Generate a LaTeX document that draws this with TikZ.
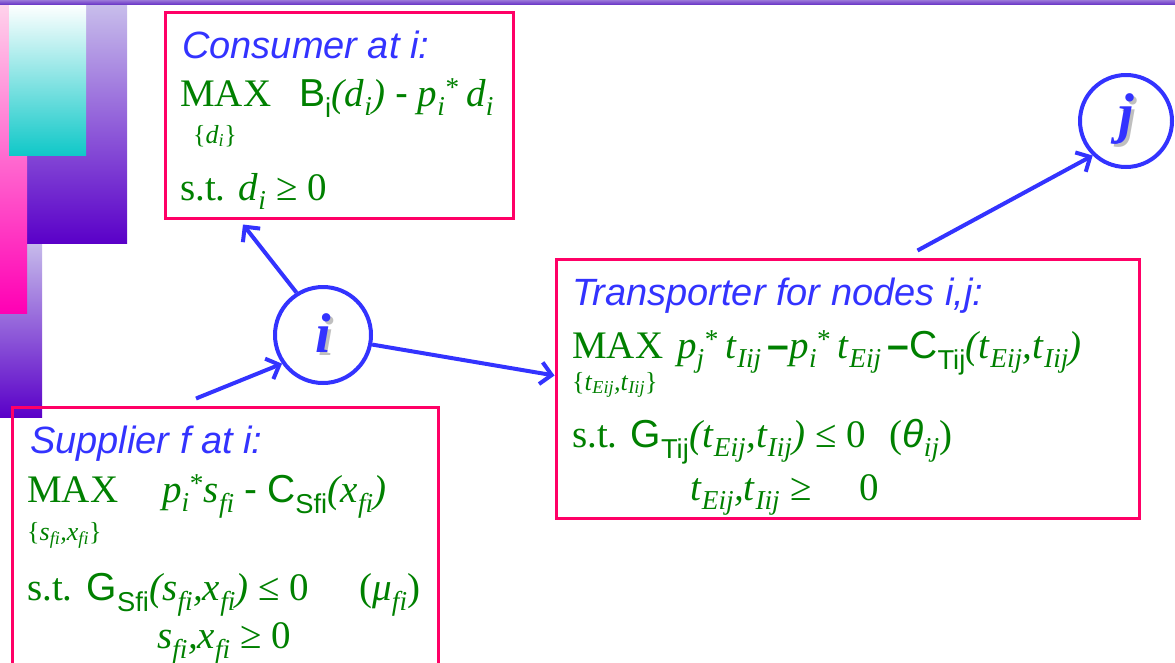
\documentclass[tikz,border=0pt]{standalone}
\usepackage{fontspec}
\setmainfont{Liberation Serif}
\newfontfamily\arial{Liberation Sans}
\usetikzlibrary{arrows.meta, positioning}

\definecolor{boxred}{RGB}{255,0,102}
\definecolor{linkblue}{RGB}{51,51,255}
\definecolor{eqgreen}{RGB}{0,128,0}
\definecolor{barpurple}{RGB}{110,60,200}
\definecolor{deeppurple}{RGB}{90,0,200}
\definecolor{lavender}{RGB}{200,190,235}
\definecolor{hotpink}{RGB}{255,0,180}
\definecolor{palepink}{RGB}{255,210,235}
\definecolor{teal}{RGB}{16,200,200}

% subscripts / superscripts in text
\newcommand{\lo}[1]{\textsubscript{\itshape #1}}
\newcommand{\hi}[1]{\textsuperscript{#1}}
\newcommand{\fnlo}[1]{\textsubscript{\arial #1}}
\newcommand{\shadowed}[1]{\makebox[0pt][l]{\hspace{3pt}\raisebox{-3pt}{\textcolor{black!25}{#1}}}#1}

\begin{document}
\begin{tikzpicture}[
  x=1pt, y=-1pt,
  model/.style={draw=boxred, line width=3pt, inner sep=0pt},
  place/.style={circle, draw=linkblue, line width=4pt, inner sep=0pt, text=linkblue,
    font=\bfseries\itshape\fontsize{56}{62}\selectfont},
  head/.style={anchor=base west, inner sep=0pt, text=linkblue,
    font=\arial\itshape\fontsize{38}{44}\selectfont},
  eqn/.style={anchor=base west, inner sep=0pt, text=eqgreen,
    font=\fontsize{39}{46}\selectfont},
  idx/.style={anchor=base west, inner sep=0pt, text=eqgreen,
    font=\fontsize{26}{30}\selectfont},
  link/.style={draw=linkblue, line width=4pt,
    -{Straight Barb[length=11pt, width=22pt, line width=4pt]}}
]
\clip (0,0) rectangle (1175,662);

% slide decoration
\shade[top color=lavender, bottom color=deeppurple] (0,240) rectangle (42,417);
\shade[top color=lavender, bottom color=deeppurple] (27,4) rectangle (127,243);
\shade[top color=palepink, bottom color=hotpink] (0,4) rectangle (27,313);
\shade[top color=white, bottom color=teal] (9,4) rectangle (86,155);
\shade[top color=barpurple!70, bottom color=barpurple] (0,0) rectangle (1175,4);

% boxes
\node[model, minimum width=348pt, minimum height=206pt] (cons) at (339,115) {};
\node[model, minimum width=583pt, minimum height=259pt] (trans) at (847.5,388.5) {};
\node[model, minimum width=426pt, minimum height=283pt] (supp) at (225,548.5) {};

% nodes of the network
\node[place, minimum size=96pt] (i) at (323,335) {\shadowed{i}};
\node[place, minimum size=92pt] (j) at (1126,121) {\shadowed{j}};

% consumer
\node[head] (conshead) at (182,58) {Consumer at i:};
\node[eqn] (consmax) at (180,106) {MAX\hspace{28pt}{\arial B}\fnlo{i}\textit{(d}\lo{i}\textit{)} {\arial -} \textit{p}\lo{i}\hi{*}\,\textit{d}\lo{i}};
\node[idx] (considx) at (193,143) {\{\textit{d}\lo{i}\}};
\node[eqn] (consst) at (180,200) {s.t. \textit{d}\lo{i} ≥ 0};

% transporter
\node[head] (transhead) at (572,305) {Transporter for nodes i,j:};
\node[eqn] (transmax) at (572,358) {MAX\hspace{14pt}\textit{p}\lo{j}\hi{*}\,\textit{t}\lo{Iij}\hspace{6pt}{\arial\bfseries –}\textit{p}\lo{i}\hi{*}\,\textit{t}\lo{Eij}\hspace{6pt}{\arial\bfseries –}{\arial C}\fnlo{Tij}\textit{(t}\lo{Eij}\textit{,t}\lo{Iij}\textit{)}};
\node[idx] (transidx) at (572,390) {\{\textit{t}\lo{Eij}\textit{,t}\lo{Iij}\}};
\node[eqn] (transst) at (572,447) {s.t. {\arial G}\fnlo{Tij}\textit{(t}\lo{Eij}\textit{,t}\lo{Iij}\textit{)} ≤ 0\hspace{24pt}({\arial\itshape θ}\lo{ij})};
\node[eqn] (transpos) at (690,500) {\textit{t}\lo{Eij}\textit{,t}\lo{Iij} ≥\hspace{48pt}0};

% supplier
\node[head] (supphead) at (30,453) {Supplier f at i:};
\node[eqn] (suppmax) at (27,502) {MAX\hspace{44pt}\textit{p}\lo{i}\hi{*}\textit{s}\lo{fi} {\arial -} {\arial C}\fnlo{Sfi}\textit{(x}\lo{fi}\textit{)}};
\node[idx] (suppidx) at (27,540) {\{\textit{s}\lo{fi}\textit{,x}\lo{fi}\}};
\node[eqn] (suppst) at (27,600) {s.t.\hspace{14pt}{\arial G}\fnlo{Sfi}\textit{(s}\lo{fi}\textit{,x}\lo{fi}\textit{)} ≤ 0\hspace{50pt}(\textit{μ}\lo{fi})};
\node[eqn] (supppos) at (157,648) {\textit{s}\lo{fi}\textit{,x}\lo{fi} ≥ 0};

% connections
\draw[link] (i.122) -- ([xshift=-96pt, yshift=-5pt]cons.south);
\draw[link] ([xshift=-29pt, yshift=7pt]supp.north) -- (i.215);
\draw[link] (i.-11) -- ([yshift=13pt]trans.west);
\draw[link] ([xshift=70pt, yshift=7pt]trans.north) -- (j.226);

\end{tikzpicture}
\end{document}
